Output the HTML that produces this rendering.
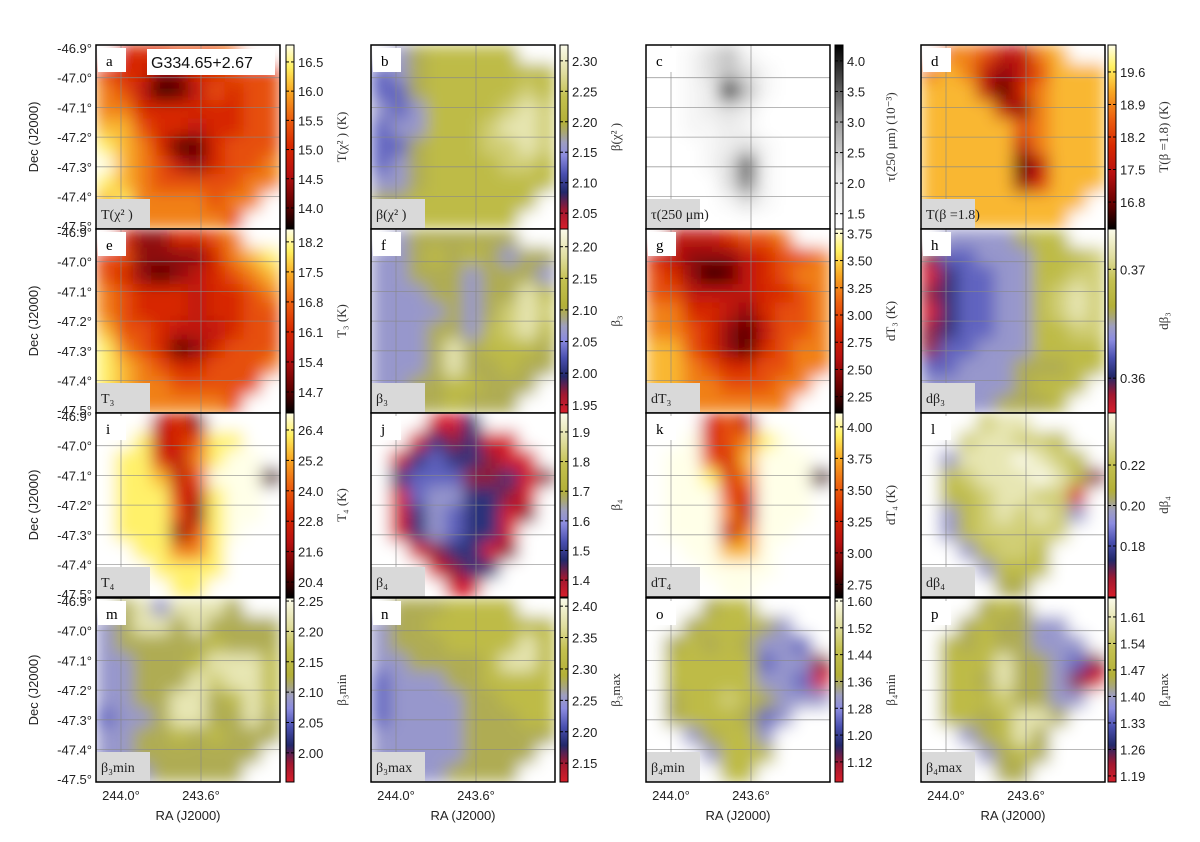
<!DOCTYPE html>
<html><head><meta charset="utf-8"><style>
html,body{margin:0;padding:0;background:#fff;}
svg{display:block;font-family:"Liberation Sans","DejaVu Sans",sans-serif;}
</style></head><body>
<svg id="fig" width="1200" height="842" viewBox="0 0 1200 842" xmlns="http://www.w3.org/2000/svg">
<defs>
<filter id="blur" x="0" y="0" width="1" height="1"><feGaussianBlur stdDeviation="8" edgeMode="duplicate"/></filter>
</defs>
<g id="root"></g>
</svg>
<script>
// ---- data grids (10x10, digits 0-9 = fraction of colour scale, '.' = no data) ----
const gridA=[".4445556..","5442244555","6530135455","6644444455","7754434455","8764114555","9765324556","8765555566","786666566.","77666665.."];
const gridB=[".4566666..","3456666666","3356666676","4346666787","3446667887","3356667787","3456666776","4456666666","556666666.","66666666.."];
const gridC=[".0134100..","0013431000","0012941000","0012320000","0011210000","0001231000","0001371000","0000361000","000013100.","00000000.."];
const gridD=[".6653367..","6763235777","7773146777","7777326777","7777756777","7777736777","7777713777","7777724777","777777777.","77777777.."];
const gridE=[".4224456..","5522224678","5421234567","6544434456","6544434455","7554333455","8654124555","8765445556","876655555.","77666665.."];
const gridF=[".4555555..","4456565455","4455545554","4445545586","4444545787","4445546786","4445856665","4445855655","445566555.","44556555.."];
const gridG=[".3334556..","4322234556","5420134566","5533334456","6644324556","6654213556","7754214566","7765445566","776655566.","77666666.."];
const gridH=[".4444566..","1334446667","0233446677","1233446787","0233446787","1233446677","1334446666","3344455566","444445666.","44445556.."];
const gridI=["...342....","..834588..",".88436899.",".887359991",".88843899.",".88852899.",".8882589..","..88668...","...8888...","....88...."];
const gridJ=["...002....","..021200..",".02322100.",".233311201",".03442210.",".02432201.",".0243220..","..012201..","...0122...","....00...."];
const gridK=["...453....","..945689..",".99547999.",".998469991",".99954999.",".99963999.",".9993699..","..99779...","...9999...","....99...."];
const gridL=["...788....","..788776..",".48889876.",".678889861",".66788770.",".46787874.",".4677777..","..46776...","...4666...","....55...."];
const gridM=[".5848885..","4588585555","4555556555","4455568886","4455587886","4455885686","3445885585","4455656555","445555555.","44455555.."];
const gridN=[".5556666..","4556666666","4555666686","4455556886","3444556666","3444455666","3444455566","4444455555","444445555.","44445555.."];
const gridO=["...566....","..566654..",".56565443.",".666663441",".666664430",".566765444",".5666534..","..45664...","...4666...","....66...."];
const gridP=["...565....","..565544..",".65655444.",".666855431",".665855410",".66675544.",".6656885..","..45685...","...4565...","....55...."];

// ---- colourbar ticks ----
const ticksA=[14.0,14.5,15.0,15.5,16.0,16.5];
const ticksB=[2.05,2.10,2.15,2.20,2.25,2.30];
const ticksC=[1.5,2.0,2.5,3.0,3.5,4.0];
const ticksD=[16.8,17.5,18.2,18.9,19.6];
const ticksE=[14.7,15.4,16.1,16.8,17.5,18.2];
const ticksF=[1.95,2.00,2.05,2.10,2.15,2.20];
const ticksG=[2.25,2.50,2.75,3.00,3.25,3.50,3.75];
const ticksH=[0.36,0.37];
const ticksI=[20.4,21.6,22.8,24.0,25.2,26.4];
const ticksJ=[1.4,1.5,1.6,1.7,1.8,1.9];
const ticksK=[2.75,3.00,3.25,3.50,3.75,4.00];
const ticksL=[0.18,0.20,0.22];
const ticksM=[2.00,2.05,2.10,2.15,2.20,2.25];
const ticksN=[2.15,2.20,2.25,2.30,2.35,2.40];
const ticksO=[1.12,1.20,1.28,1.36,1.44,1.52,1.60];
const ticksP=[1.19,1.26,1.33,1.40,1.47,1.54,1.61];
const decTicks=[-46.9,-47.0,-47.1,-47.2,-47.3,-47.4,-47.5];
const raTicks=[244.0,243.6];

const NS="http://www.w3.org/2000/svg";
const root=document.getElementById('root');
const colX=[96,371,646,921], rowY=[45,229,413,598], PW=184, PH=184;

const cmaps={
 hot:[[0,'#000000'],[0.12,'#5a0000'],[0.3,'#b81010'],[0.45,'#d82800'],[0.6,'#ec6010'],[0.75,'#f8a824'],[0.88,'#fff060'],[1,'#ffffe8']],
 gray:[[0,'#ffffff'],[0.3,'#e6e6e6'],[0.6,'#9a9a9a'],[1,'#000000']],
 beta:[[0,'#d81e2a'],[0.1,'#a01830'],[0.2,'#22286a'],[0.3,'#4a50b0'],[0.4,'#8c8ce0'],[0.47,'#9e9ec0'],[0.52,'#a8a67a'],[0.58,'#b3b038'],[0.72,'#c4c150'],[0.85,'#e0dea0'],[1,'#fbfbea']]
};
function hex(h){return [parseInt(h.substr(1,2),16),parseInt(h.substr(3,2),16),parseInt(h.substr(5,2),16)];}
function cmap(name,v){
 const s=cmaps[name];
 for(let i=1;i<s.length;i++){ if(v<=s[i][0]){const t=(v-s[i-1][0])/(s[i][0]-s[i-1][0]);const a=hex(s[i-1][1]),b=hex(s[i][1]);
  return 'rgb('+a.map((c,k)=>Math.round(c+(b[k]-c)*t)).join(',')+')';}}
 return s[s.length-1][1];
}
function el(tag,attrs,parent){const e=document.createElementNS(NS,tag);for(const k in attrs)e.setAttribute(k,attrs[k]);(parent||root).appendChild(e);return e;}
for(const n in cmaps){const g=el('linearGradient',{id:'cb-'+n,x1:0,y1:1,x2:0,y2:0},document.querySelector('defs'));
 cmaps[n].forEach(s=>el('stop',{offset:s[0],'stop-color':s[1]},g));}

const panels=[
 {id:'a',grid:gridA,cm:'hot',ticks:ticksA,min:13.64,max:16.79,dec:1,cb:'T(χ² ) (K)',lab:'T(χ² )'},
 {id:'b',grid:gridB,cm:'beta',ticks:ticksB,min:2.024,max:2.326,dec:2,cb:'β(χ² )',lab:'β(χ² )'},
 {id:'c',grid:gridC,cm:'gray',ticks:ticksC,min:1.25,max:4.26,dec:1,cb:'τ(250 μm) (10⁻³)',lab:'τ(250 μm)'},
 {id:'d',grid:gridD,cm:'hot',ticks:ticksD,min:16.22,max:20.18,dec:1,cb:'T(β =1.8) (K)',lab:'T(β =1.8)'},
 {id:'e',grid:gridE,cm:'hot',ticks:ticksE,min:14.21,max:18.5,dec:1,cb:'T₃ (K)',lab:'T₃'},
 {id:'f',grid:gridF,cm:'beta',ticks:ticksF,min:1.937,max:2.228,dec:2,cb:'β₃',lab:'β₃'},
 {id:'g',grid:gridG,cm:'hot',ticks:ticksG,min:2.10,max:3.79,dec:2,cb:'dT₃ (K)',lab:'dT₃'},
 {id:'h',grid:gridH,cm:'beta',ticks:ticksH,min:0.3568,max:0.3737,dec:2,cb:'dβ₃',lab:'dβ₃'},
 {id:'i',grid:gridI,cm:'hot',ticks:ticksI,min:19.81,max:27.07,dec:1,cb:'T₄ (K)',lab:'T₄'},
 {id:'j',grid:gridJ,cm:'beta',ticks:ticksJ,min:1.343,max:1.964,dec:1,cb:'β₄',lab:'β₄'},
 {id:'k',grid:gridK,cm:'hot',ticks:ticksK,min:2.65,max:4.11,dec:2,cb:'dT₄ (K)',lab:'dT₄'},
 {id:'l',grid:gridL,cm:'beta',ticks:ticksL,min:0.1548,max:0.2457,dec:2,cb:'dβ₄',lab:'dβ₄'},
 {id:'m',grid:gridM,cm:'beta',ticks:ticksM,min:1.952,max:2.255,dec:2,cb:'β₃min',lab:'β₃min'},
 {id:'n',grid:gridN,cm:'beta',ticks:ticksN,min:2.12,max:2.413,dec:2,cb:'β₃max',lab:'β₃max'},
 {id:'o',grid:gridO,cm:'beta',ticks:ticksO,min:1.06,max:1.609,dec:2,cb:'β₄min',lab:'β₄min'},
 {id:'p',grid:gridP,cm:'beta',ticks:ticksP,min:1.174,max:1.66,dec:2,cb:'β₄max',lab:'β₄max'}
];
const cbX=[286,560,835,1108];
function decY(py,d){return py+3+(-46.9-d)/0.1*29.7;}
function raX(px,r){return px+25+(244.0-r)/0.4*80;}

panels.forEach((p,i)=>{
 const c=i%4,r=Math.floor(i/4),px=colX[c],py=rowY[r];
 const g=el('g',{});
 
 
 const cp=el('clipPath',{id:'clip-'+p.id},g);
 el('rect',{x:px,y:py,width:PW,height:PH},cp);
 el('rect',{x:px,y:py,width:PW,height:PH,fill:'#fff'},g);
 const mg=el('g',{'clip-path':'url(#clip-'+p.id+')'},g);
 const hm=el('g',{filter:'url(#blur)'},mg);
 const n=p.grid.length,cw=PW/p.grid[0].length,ch=PH/n;
 p.grid.forEach((row,ri)=>{[...row].forEach((ch0,ci)=>{
  const fill=ch0==='.'?'#ffffff':cmap(p.cm,(+ch0)/9);
  const cell=el('rect',{x:px+ci*cw,y:py+ri*ch,width:cw+0.6,height:ch+0.6,fill:fill},hm);
  
  
 });});
 decTicks.slice(1,6).forEach(d=>el('line',{x1:px,x2:px+PW,y1:decY(py,d),y2:decY(py,d),stroke:'#888','stroke-width':0.8,opacity:0.8},mg));
 raTicks.forEach(ra=>el('line',{x1:raX(px,ra),x2:raX(px,ra),y1:py,y2:py+PH,stroke:'#888','stroke-width':0.8,opacity:0.8},mg));
 el('rect',{x:px+2,y:py+3,width:28,height:24,fill:'#fff'},mg);
 const lt=el('text',{x:px+10,y:py+21,'font-family':'"Liberation Serif",serif','font-size':15},g);lt.textContent=p.id;
 
 el('rect',{x:px,y:py+PH-30,width:54,height:30,fill:'#d9d9d9'},mg);
 const bl=el('text',{x:px+5,y:py+PH-10,'font-family':'"Liberation Serif",serif','font-size':14,fill:'#222'},g);bl.textContent=p.lab;
 
 el('rect',{x:px,y:py,width:PW,height:PH,fill:'none',stroke:'#000','stroke-width':1.5},g);
 const cbx=cbX[c];
 const cb=el('rect',{x:cbx,y:py,width:8,height:PH,fill:'url(#cb-'+p.cm+')',stroke:'#000','stroke-width':1},g);
 
 
 p.ticks.forEach(t=>{const y=py+(p.max-t)/(p.max-p.min)*PH;
  el('line',{x1:cbx,x2:cbx+3,y1:y,y2:y,stroke:'#000'},g);el('line',{x1:cbx+5,x2:cbx+8,y1:y,y2:y,stroke:'#000'},g);
  const tl=el('text',{x:cbx+12,y:y+5,'font-size':13,fill:'#222'},g);tl.textContent=t.toFixed(p.dec);
  });
 const cl=el('text',{x:cbx+60,y:py+PH/2,'font-family':'"Liberation Serif",serif','font-size':13,'text-anchor':'middle',fill:'#333',transform:'rotate(-90 '+(cbx+60)+' '+(py+PH/2)+')'},g);
 cl.textContent=p.cb;
 
 if(c===0){decTicks.forEach(d=>{const t=el('text',{x:px-4,y:decY(py,d)+5,'font-size':13,'text-anchor':'end',fill:'#222'},g);t.textContent=d.toFixed(1)+'°';
   });
  const yl=el('text',{x:38,y:py+PH/2,'font-size':13,'text-anchor':'middle',fill:'#222',transform:'rotate(-90 38 '+(py+PH/2)+')'},g);yl.textContent='Dec (J2000)';
  }
 if(r===3){raTicks.forEach(ra=>{const t=el('text',{x:raX(px,ra),y:py+PH+18,'font-size':13,'text-anchor':'middle',fill:'#222'},g);t.textContent=ra.toFixed(1)+'°';
   });
  const xl=el('text',{x:px+PW/2,y:py+PH+38,'font-size':13,'text-anchor':'middle',fill:'#222'},g);xl.textContent='RA (J2000)';
  }
});
const nb=el('rect',{x:147,y:49,width:128,height:26,fill:'#fff'});
const nt=el('text',{x:151,y:68,'font-size':16,fill:'#111'});nt.textContent='G334.65+2.67';


</script>
</body></html>
